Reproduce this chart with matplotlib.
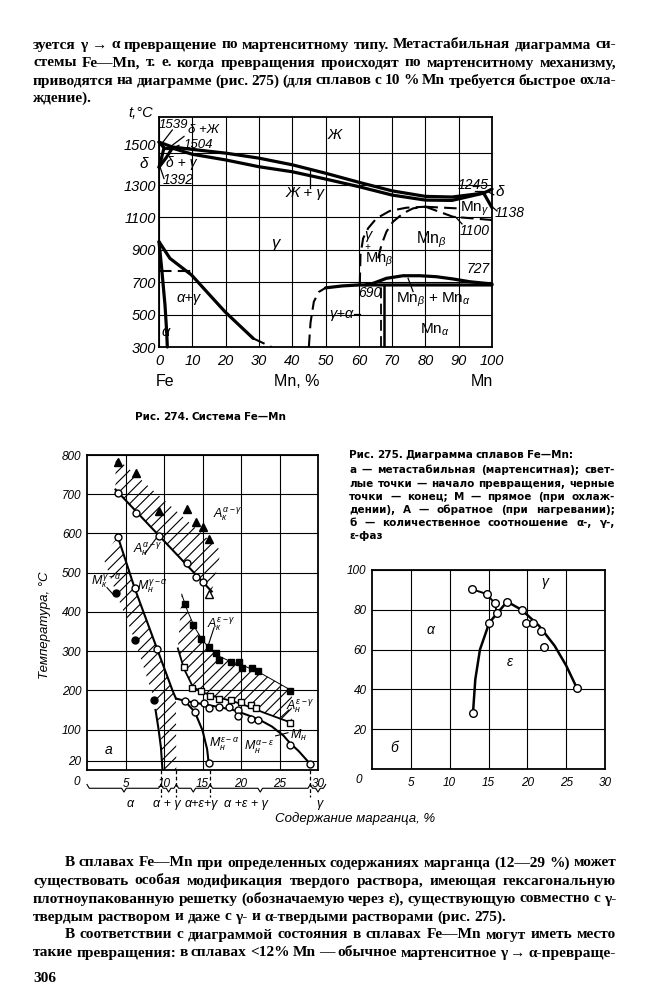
import matplotlib
matplotlib.use("Agg")
import matplotlib.pyplot as plt
import matplotlib.transforms as mtransforms
from matplotlib.patches import Polygon

W, H = 651, 1000
plt.rcParams['font.family'] = ['Liberation Sans', 'DejaVu Sans']
plt.rcParams['mathtext.fontset'] = 'custom'
plt.rcParams['mathtext.rm'] = 'Liberation Sans'
plt.rcParams['mathtext.it'] = 'Liberation Sans:italic'
plt.rcParams['hatch.linewidth'] = 0.8

# ---------------- page text ----------------
text_top = ["зуется γ → α превращение по мартенситному типу. Метастабильная диаграмма си-",
            "стемы Fe—Mn, т. е. когда превращения происходят по мартенситному механизму,",
            "приводятся на диаграмме (рис. 275) (для сплавов с 10 % Mn требуется быстрое охла-",
            "ждение)."]
text_bottom = ["В сплавах Fe—Mn при определенных содержаниях марганца (12—29 %) может",
               "существовать особая модификация твердого раствора, имеющая гексагональную",
               "плотноупакованную решетку (обозначаемую через ε), существующую совместно с γ-",
               "твердым раствором и даже с γ- и α-твердыми растворами (рис. 275).",
               "В соответствии с диаграммой состояния в сплавах Fe—Mn могут иметь место",
               "такие превращения: в сплавах <12% Mn — обычное мартенситное γ → α-превраще-"]
cap274 = "Рис. 274. Система Fe—Mn"
cap275 = ["Рис. 275. Диаграмма сплавов Fe—Mn:",
          "а — метастабильная (мартенситная); свет-",
          "лые точки — начало превращения, черные",
          "точки — конец; М — прямое (при охлаж-",
          "дении), А — обратное (при нагревании);",
          "б — количественное соотношение α-, γ-,",
          "ε-фаз"]
page_no = "306"

# ---------------- рис. 274, Fe-Mn ----------------
fe_xticks = [0, 10, 20, 30, 40, 50, 60, 70, 80, 90, 100]
fe_yticks = [300, 500, 700, 900, 1100, 1300, 1500]
liq_x = [0, 4, 10, 20, 30, 40, 50, 60, 70, 80, 88, 97.5]
liq_t = [1565, 1535, 1520, 1497, 1466, 1425, 1373, 1317, 1264, 1230, 1226, 1250]
sol_x = [4, 10, 20, 30, 40, 50, 60, 70, 80, 88, 97.5]
sol_t = [1528, 1490, 1455, 1413, 1382, 1337, 1290, 1238, 1207, 1205, 1250]
dsol_x = [0, 1.5]
dsol_t = [1565, 1530]
perit_x = [1.5, 4.5]
perit_t = [1530, 1530]
dlo_x = [0, 0.8, 1.5]
dlo_t = [1410, 1470, 1530]
dhi_x = [0, 2.2, 4.0]
dhi_t = [1410, 1470, 1528]
mnd_up_x = [97.5, 100]
mnd_up_t = [1250, 1275]
mnd_lo_x = [97.5, 100]
mnd_lo_t = [1250, 1160]
gmb_l_x = [60.3, 60.5, 61.3, 62.8, 65.3, 69.3, 74.3, 80]
gmb_l_t = [683, 868, 971, 1033, 1094, 1140, 1160, 1166]
gmb_r_x = [65.8, 66.8, 68.3, 70.3, 73.3, 76.3, 80]
gmb_r_t = [847, 930, 1012, 1074, 1125, 1156, 1166]
mng_up_x = [80, 89.4, 91]
mng_up_t = [1166, 1156, 1154]
mng_lo_x = [80, 88.3, 100]
mng_lo_t = [1166, 1104, 1084]
eutd_x = [45, 45.5, 46.5, 48, 50]
eutd_t = [300, 450, 580, 640, 665]
eut_x = [50, 55, 60, 100]
eut_t = [665, 677, 683, 683]
hump_x = [62, 64.3, 68.3, 73.3, 78.3, 83.3, 88.3, 93.3, 100]
hump_t = [683, 693, 724, 740, 740, 734, 720, 703, 689]
a_ag_x = [0, 0.8, 1.8, 2.3, 2.5]
a_ag_t = [950, 786, 559, 395, 300]
ag_g_x = [0, 3.3, 9.8, 14.3, 19.8, 25.3, 28.3]
ag_g_t = [950, 847, 744, 642, 518, 411, 353]
ag_gd_x = [28.3, 33.8]
ag_gd_t = [353, 300]
curie_x = [0, 10]
curie_t = [771, 771]

# ---------------- рис. 275 а ----------------
a_xticks = [5, 10, 15, 20, 25, 30]
a_yticks = [20, 100, 200, 300, 400, 500, 600, 700, 800]
ak_ag_x = [4.05, 6.4, 9.36, 13.0, 14.2, 15.0, 15.9]
ak_ag_t = [783, 755, 657, 662, 630, 616, 585]
ah_ag_x = [4.05, 6.34, 9.36, 13.0, 14.2, 15.0]
ah_ag_t = [702, 653, 593, 524, 490, 477]
ah_ag_tri_x = [15.9]
ah_ag_tri_t = [445]
band1_x = [3.7, 17.4, 16.2, 3.7]
band1_t = [795, 556, 452, 712]
ahline_x = [3.7, 16.2]
ahline_t = [712, 452]
band2_x = [2.07, 4.0, 6.2, 9.1, 11.1, 11.55, 11.6, 9.8, 9.6, 8.75, 6.2, 3.8]
band2_t = [540, 592, 460, 306, 200, 179, -3, -3, 89, 175, 328, 447]
mh_ga_x = [4.0, 6.2, 9.1, 11.1, 11.55]
mh_ga_t = [592, 460, 306, 200, 179]
mk_ga_x = [3.8, 6.2, 8.75]
mk_ga_t = [447, 328, 175]
mk_tail_x = [8.9, 9.3, 9.6, 9.8]
mk_tail_t = [150, 100, 55, -3]
b3_up_x = [12.3, 13.0, 14.0, 15.0, 16.0, 17.0, 18.5, 20.0, 22.0, 24.0, 26.6]
b3_up_t = [445, 405, 360, 328, 305, 288, 275, 265, 250, 228, 199]
b3_lo_x = [11.8, 12.6, 13.75, 15.0, 16.8, 19.0, 21.1, 23.0, 24.8, 26.6]
b3_lo_t = [307, 255, 209, 195, 183, 172, 158, 143, 130, 117]
ak_eg_x = [12.7, 13.75, 14.8, 15.9, 16.8, 17.2, 18.7, 19.7, 20.1, 21.4, 22.2, 26.3]
ak_eg_t = [420, 366, 330, 311, 296, 277, 273, 273, 258, 258, 250, 199]
ah_eg_x = [12.6, 13.7, 14.8, 16.0, 17.2, 18.7, 20.0, 21.3, 21.95, 26.3]
ah_eg_t = [260, 206, 199, 185, 177, 175, 171, 162, 154, 117]
mh_ae_x = [11.6, 13, 15, 17, 19, 21, 22.5, 24, 25.5, 26.3, 27.5, 29.0]
mh_ae_t = [179, 172, 165, 158, 150, 136, 124, 108, 85, 67, 45, 12]
mh_ea_x = [12.7, 14.0, 15.0, 15.6, 15.8]
mh_ea_t = [173, 145, 98, 50, 15]
mh_pts_x = [12.7, 13.9, 15.2, 15.9, 17.2, 18.4, 19.6, 19.6, 21.3, 22.2, 14.0, 15.8, 26.3, 29.0]
mh_pts_t = [173, 168, 167, 154, 158, 157, 151, 134, 126, 124, 145, 15, 62, 12]
phase_sep = [9.6, 11.6, 16.0, 29.0]
phase_spans = [(0, 9.6), (9.6, 11.6), (11.6, 16.0), (16.0, 29.0), (29.0, 31.0)]
phase_names = ["α", "α + γ", "α+ε+γ", "α +ε + γ", "γ"]
phase_pos = [5.6, 10.4, 14.8, 20.7, 30.2]

# ---------------- рис. 275 б ----------------
b_xticks = [5, 10, 15, 20, 25, 30]
b_yticks = [20, 40, 60, 80, 100]
ag_line_x = [12.9, 14.8, 15.8, 16.1]
ag_line_y = [90.3, 87.9, 83.2, 78.2]
eps_line_x = [13.0, 13.3, 13.9, 15.1, 16.1, 17.4, 19.3, 21.5, 23.5, 25.0, 26.4]
eps_line_y = [28.0, 45, 60, 73.5, 78.2, 84.1, 79.9, 72, 62, 52, 40.5]
b_pts_x = [12.9, 14.8, 15.8, 15.1, 16.1, 17.4, 19.3, 19.8, 20.7, 21.7, 22.2, 26.4, 13.0]
b_pts_y = [90.3, 87.9, 83.2, 73.5, 78.2, 84.1, 79.9, 73.2, 73.2, 69.5, 61.5, 40.5, 28.0]

fig = plt.figure(figsize=(W / 100, H / 100), dpi=100)
fig.patch.set_facecolor('white')
r = fig.canvas.get_renderer()


def fx(px):
    return px / W


def fy(py):
    return 1 - py / H


SERIF = ['Liberation Serif', 'DejaVu Serif']
SANS = ['DejaVu Sans']


def measure(words, size, family, weight):
    t = fig.text(0, 0, '', fontsize=size, family=family, weight=weight)
    ws = []
    for w in words:
        t.set_text(w)
        ws.append(t.get_window_extent(r).width)
    t.remove()
    return ws


def fit_size(s, x0, x1, size, family, weight='bold'):
    # largest size (<= size) at which the line still fits with normal spaces
    words = s.split()
    while True:
        ws = measure(words, size, family, weight)
        space = size * 100 / 72 * 0.25 * 0.7
        if sum(ws) + space * (len(words) - 1) <= x1 - x0:
            return size
        size *= 0.98


def put_line(s, x0, x1, y, size, family, weight='bold', justify=True):
    words = s.split()
    ws = measure(words, size, family, weight)
    if justify and len(words) > 1:
        gap = (x1 - x0 - sum(ws)) / (len(words) - 1)
    else:
        gap = size * 100 / 72 * 0.25
    x = x0
    for w, wd in zip(words, ws):
        fig.text(fx(x), fy(y), w, fontsize=size, family=family, weight=weight,
                 va='center', ha='left')
        x += wd + gap


body_size = 11.8
for s in text_top + text_bottom:
    body_size = min(body_size, fit_size(s, 33, 616, 11.8, SERIF))

for i, (s, y) in enumerate(zip(text_top, [45, 63, 81, 98])):
    put_line(s, 33, 616, y, body_size, SERIF, justify=(i < 3))
ys = [863, 881, 899, 917, 935, 953]
for i, (s, y) in enumerate(zip(text_bottom, ys)):
    x0 = 65 if i in (0, 4) else 33
    put_line(s, x0, 616, y, body_size, SERIF, justify=(i != 3))
fig.text(fx(33), fy(979), page_no, fontsize=body_size, family=SERIF, weight='bold', va='center')
put_line(cap274, 135, 300, 417, 7.5, SANS, justify=False)
for i, (s, y) in enumerate(zip(cap275, [455, 470, 484, 497, 510, 523, 536])):
    put_line(s, 349, 615, y, 7.5, SANS, justify=(0 < i < 6))


def style(ax, xt, yt, size, xpad, ypad, ylabels=None):
    ax.set_xticks(xt)
    ax.set_yticks(yt)
    ax.set_xticklabels([str(v) for v in xt], fontsize=size, fontstyle='italic')
    ax.set_yticklabels(ylabels if ylabels else [str(v) for v in yt],
                       fontsize=size, fontstyle='italic')
    ax.tick_params(length=0, pad=xpad, axis='x')
    ax.tick_params(length=0, pad=ypad, axis='y')
    ax.grid(True, color='k', lw=0.8)
    ax.set_axisbelow(True)
    for sp in ax.spines.values():
        sp.set_linewidth(1.3)


# ---- рис. 274 ----
ax1 = fig.add_axes([fx(159), fy(347), 333 / W, 230 / H])
ax1.set_xlim(0, 100)
ax1.set_ylim(300, 1720)
style(ax1, fe_xticks, fe_yticks, 10.5, 5, 2,
      ylabels=[str(v) if v != 1500 else '' for v in fe_yticks])
ax1.text(-1, 1540, "1500", fontsize=10.5, fontstyle='italic', ha='right', va='center')
LW = 2.3
for xs, ts in [(liq_x, liq_t), (sol_x, sol_t), (dsol_x, dsol_t), (perit_x, perit_t),
               (dlo_x, dlo_t), (dhi_x, dhi_t), (mnd_up_x, mnd_up_t), (mnd_lo_x, mnd_lo_t),
               (eut_x, eut_t), (hump_x, hump_t), (a_ag_x, a_ag_t), (ag_g_x, ag_g_t)]:
    ax1.plot(xs, ts, color='k', lw=LW, solid_capstyle='round', clip_on=False)
for xs, ts in [(gmb_l_x, gmb_l_t), (gmb_r_x, gmb_r_t), (mng_up_x, mng_up_t),
               (mng_lo_x, mng_lo_t), (eutd_x, eutd_t), (ag_gd_x, ag_gd_t), (curie_x, curie_t)]:
    ax1.plot(xs, ts, color='k', lw=1.5, ls=(0, (6, 3)))
ax1.plot([67.5, 67.5], [300, 683], color='k', lw=1.8)
ax1.plot([66.7, 66.7], [300, 683], color='k', lw=1.3, ls=(0, (6, 3)))
# leaders
for xs, ts in [([45.3, 45.3], [1280, 1385]), ([74.8, 76.3], [724, 642]), ([1, 4], [1560, 1640]),
               ([3, 7.5], [1530, 1600]), ([4, 6], [1528, 1545]), ([0.3, 1.5], [1412, 1340]),
               ([98.5, 100.5], [1262, 1240]), ([99.5, 101.5], [1175, 1140]), ([89, 91], [1104, 1060]),
               ([95, 99], [1262, 1262]), ([58.5, 60.3], [502, 502])]:
    ax1.plot(xs, ts, color='k', lw=0.9, clip_on=False)

it = dict(fontstyle='italic', ha='center', va='center', clip_on=False)
for s, x, t, sz in [("1539", 4.2, 1672, 9.5), ("δ +Ж", 13.3, 1640, 9.5), ("1504", 11.8, 1548, 9.5),
                    ("δ", -4.7, 1430, 11), ("δ + γ", 6.8, 1434, 10), ("1392", 5.8, 1331, 10),
                    ("Ж", 52.8, 1609, 11), ("Ж + γ", 43.8, 1249, 11), ("1245", 94.3, 1300, 10),
                    ("δ", 102.3, 1255, 11), ("1138", 105.3, 1130, 10), ("1100", 94.8, 1016, 10),
                    ("γ", 34.8, 940, 12), ("γ", 62.8, 992, 10.5), ("+", 62.4, 918, 7),
                    ("727", 95.8, 781, 10), ("690", 63.3, 631, 10), ("γ+α", 54.8, 502, 10.5),
                    ("α+γ", 8.8, 600, 10.5), ("α", 2.0, 395, 10.5)]:
    ax1.text(x, t, s, fontsize=sz, **it)
up = dict(ha='center', va='center', clip_on=False)
ax1.text(94.8, 1150, r"Mn$_\gamma$", fontsize=11, **up)
ax1.text(81.8, 960, r"Mn$_\beta$", fontsize=11.5, **up)
ax1.text(66.0, 835, r"Mn$_\beta$", fontsize=10.5, **up)
ax1.text(82.3, 590, r"Mn$_\beta$ + Mn$_\alpha$", fontsize=11, **up)
ax1.text(82.8, 405, r"Mn$_\alpha$", fontsize=11, **up)
fig.text(fx(141), fy(113), "t,°C", fontsize=10.5, fontstyle='italic', ha='center', va='center')
for s, x in [("Fe", 165), ("Mn, %", 297), ("Mn", 482)]:
    fig.text(fx(x), fy(382), s, fontsize=11.5, ha='center', va='center')

# ---- рис. 275 а ----
ax2 = fig.add_axes([fx(87), fy(770), 231 / W, 315 / H])
ax2.set_xlim(0, 30)
ax2.set_ylim(-3, 800)
style(ax2, a_xticks, a_yticks, 8.5, 6, 4)
for bx, bt in [(band1_x, band1_t), (band2_x, band2_t),
               (b3_up_x + b3_lo_x[::-1], b3_up_t + b3_lo_t[::-1])]:
    ax2.add_patch(Polygon(list(zip(bx, bt)), closed=True, fill=False, hatch='///',
                          edgecolor='k', lw=0))
ax2.plot(ahline_x, ahline_t, 'k', lw=1.5)
ax2.plot(mh_ga_x, mh_ga_t, 'k', lw=1.5)
ax2.plot(mk_tail_x, mk_tail_t, 'k', lw=1.5)
ax2.plot(b3_lo_x, b3_lo_t, 'k', lw=1.3)
ax2.plot(b3_up_x, b3_up_t, 'k', lw=0.7)
ax2.plot(mh_ae_x, mh_ae_t, 'k', lw=1.5)
ax2.plot(mh_ea_x, mh_ea_t, 'k', lw=1.5)
ax2.plot(ak_ag_x, ak_ag_t, '^', color='k', ms=5.5, ls='none')
ax2.plot(ah_ag_x, ah_ag_t, 'o', mfc='white', mec='k', ms=5, ls='none')
ax2.plot(ah_ag_tri_x, ah_ag_tri_t, '^', mfc='white', mec='k', ms=6, ls='none')
ax2.plot(mh_ga_x[:3], mh_ga_t[:3], 'o', mfc='white', mec='k', ms=5, ls='none')
ax2.plot(mk_ga_x, mk_ga_t, 'o', color='k', ms=5, ls='none')
ax2.plot(ak_eg_x, ak_eg_t, 's', color='k', ms=5, ls='none')
ax2.plot(ah_eg_x, ah_eg_t, 's', mfc='white', mec='k', ms=5, ls='none')
ax2.plot(mh_pts_x, mh_pts_t, 'o', mfc='white', mec='k', ms=5, ls='none', clip_on=False)
for s, x, t in [(r"$A_{к}^{\alpha-\gamma}$", 16.4, 648), (r"$A_{н}^{\alpha-\gamma}$", 6.0, 560),
                (r"$M_{н}^{\gamma-\alpha}$", 6.5, 466), (r"$M_{к}^{\gamma-\alpha}$", 0.5, 478),
                (r"$A_{к}^{\varepsilon-\gamma}$", 15.6, 368), (r"$A_{н}^{\varepsilon-\gamma}$", 25.9, 160),
                (r"$M_{н}^{\varepsilon-\alpha}$", 15.9, 62), (r"$M_{н}^{\alpha-\varepsilon}$", 20.4, 54),
                (r"$M_{н}$", 26.4, 85)]:
    ax2.text(x, t, s, fontsize=9, ha='left', va='center')
for xs, ts in [([7.5, 9.0], [548, 588]), ([2.6, 3.6], [462, 440]), ([16.5, 15.8], [360, 318]),
               ([26.2, 25.0], [150, 128]), ([24.5, 26.1], [84, 92])]:
    ax2.plot(xs, ts, 'k', lw=0.8)
ax2.text(2.8, 47, "а", fontsize=10, fontstyle='italic', ha='center', va='center')
fig.text(fx(77), fy(782), "0", fontsize=8.5, fontstyle='italic', ha='center', va='center')
tr = mtransforms.blended_transform_factory(ax2.transData, ax2.transAxes)
for xs in phase_sep:
    ax2.plot([xs, xs], [0, -0.085], transform=tr, color='k', lw=0.9, ls=(0, (3, 2)), clip_on=False)
for (x0, x1), name, xp in zip(phase_spans, phase_names, phase_pos):
    xm = (x0 + x1) / 2
    yb, h = -0.058, 0.012
    bx = [x0, x0 + 0.3, xm - 0.3, xm, xm + 0.3, x1 - 0.3, x1]
    by = [yb + h, yb, yb, yb - h, yb, yb, yb + h]
    ax2.plot(bx, by, transform=tr, color='k', lw=0.8, clip_on=False)
    ax2.text(xp, -0.107, name, transform=tr, fontsize=9, fontstyle='italic',
             ha='center', va='center')
fig.text(fx(355), fy(819), "Содержание марганца, %", fontsize=9.5, fontstyle='italic',
         ha='center', va='center')
fig.text(fx(45), fy(625), "Температура, °С", fontsize=9.5, fontstyle='italic',
         rotation=90, ha='center', va='center')

# ---- рис. 275 б ----
ax3 = fig.add_axes([fx(372), fy(769), 233 / W, 199 / H])
ax3.set_xlim(0, 30)
ax3.set_ylim(0, 100)
style(ax3, b_xticks, b_yticks, 8.5, 6, 4)
ax3.plot(ag_line_x, ag_line_y, 'k', lw=1.4)
ax3.plot(eps_line_x, eps_line_y, 'k', lw=1.8)
ax3.plot(b_pts_x, b_pts_y, 'o', mfc='white', mec='k', ms=5.5, ls='none', zorder=5)
for s, x, y in [("γ", 22.3, 94), ("α", 7.5, 70), ("ε", 17.8, 54), ("б", 2.8, 10.4)]:
    ax3.text(x, y, s, fontsize=10, fontstyle='italic', ha='center', va='center')
fig.text(fx(359), fy(780), "0", fontsize=8.5, fontstyle='italic', ha='center', va='center')

fig.savefig("out.png", dpi=100, facecolor='white')
